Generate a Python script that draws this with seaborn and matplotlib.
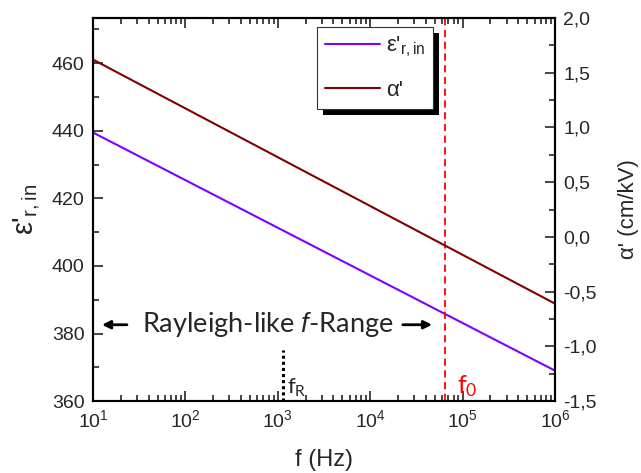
import pandas as pd
import matplotlib
matplotlib.use("Agg")
import matplotlib.pyplot as plt
import matplotlib.ticker as mticker
import matplotlib.transforms as mtransforms
from matplotlib.patches import Rectangle
import seaborn as sns

# values
freq = [1e1, 1e6]
eps_r_in = [439.5, 369.0]
alpha = [1.62, -0.61]
f0 = 6.4e4
f_R = 1.13e3
f_R_top = 375
arrow_y = 382.6

sns.set_style("ticks")
plt.rcParams['font.family'] = ['Liberation Sans', 'DejaVu Sans']
plt.rcParams['mathtext.fontset'] = 'custom'
plt.rcParams['mathtext.rm'] = 'Liberation Sans'
plt.rcParams['mathtext.it'] = 'Liberation Sans:italic'
plt.rcParams['mathtext.default'] = 'regular'

df = pd.DataFrame({'f': freq, 'eps': eps_r_in, 'alpha': alpha})

fig = plt.figure(figsize=(6.41, 4.73), dpi=100)
ax = fig.add_axes([0.145, 0.152, 0.721, 0.810])
ax2 = ax.twinx()

sns.lineplot(data=df, x='f', y='eps', ax=ax, color='#8000ff', lw=1.5,
             label="ε'$_{r,in}$", legend=False)
sns.lineplot(data=df, x='f', y='alpha', ax=ax2, color='#800000', lw=1.5,
             label="α'", legend=False)

ax.set_xscale('log')
ax.set_xlim(1e1, 1e6)
ax.set_ylim(360, 473.4)
ax.yaxis.set_major_locator(mticker.MultipleLocator(20))
ax.yaxis.set_minor_locator(mticker.MultipleLocator(10))
ax.xaxis.set_major_locator(mticker.LogLocator(base=10, numticks=10))
ax.xaxis.set_minor_locator(mticker.LogLocator(base=10, subs=range(2, 10), numticks=20))
ax.xaxis.set_minor_formatter(mticker.NullFormatter())

ax2.set_ylim(-1.5, 2.0)
ax2.yaxis.set_major_locator(mticker.MultipleLocator(0.5))
ax2.yaxis.set_minor_locator(mticker.MultipleLocator(0.25))
ax2.yaxis.set_major_formatter(mticker.FuncFormatter(lambda v, p: f"{v:.1f}".replace('.', ',')))

for a in (ax, ax2):
    for s in a.spines.values():
        s.set_linewidth(1.5)
        s.set_color('black')

ax.tick_params(which='both', direction='in', top=True, right=False, width=1.2, labelsize=14)
ax.tick_params(which='major', length=7)
ax.tick_params(which='minor', length=4)
ax.tick_params(axis='x', pad=6)
ax.tick_params(axis='y', pad=6)
ax2.tick_params(which='both', direction='in', width=1.2, labelsize=14, pad=6)
ax2.tick_params(which='major', length=7)
ax2.tick_params(which='minor', length=4)

ax.set_xlabel('f (Hz)', fontsize=17, labelpad=13)
ax.set_ylabel("ε'$_{r,in}$", fontsize=21, labelpad=6)
ax2.set_ylabel("α' (cm/kV)", fontsize=16, labelpad=15)

# markers for f0 and fR
ax.axvline(f0, color='red', ls=(0, (4, 2.5)), lw=1.3)
ax.plot([f_R, f_R], [360, f_R_top], color='black', ls=(0, (1, 1)), lw=2.2)
ax.text(f_R * 1.12, 360.5, 'f$_R$', fontsize=16, family=['Lato', 'DejaVu Sans'], va='bottom')
ax.text(f0 * 1.36, 360.5, 'f$_0$', fontsize=18, color='red', family=['Lato', 'DejaVu Sans'], va='bottom')

# Rayleigh-like range annotation
ax.text(7.7e2, arrow_y, 'Rayleigh-like $\\mathit{f}$-Range', fontsize=19.5,
        family=['Lato', 'DejaVu Sans'], ha='center', va='center')
ax.annotate('', xy=(1.17e1, arrow_y), xytext=(2.5e1, arrow_y),
            arrowprops=dict(arrowstyle='-|>', color='black', lw=2, mutation_scale=12))
ax.annotate('', xy=(5.0e4, arrow_y), xytext=(2.1e4, arrow_y),
            arrowprops=dict(arrowstyle='-|>', color='black', lw=2, mutation_scale=12))

h1, l1 = ax.get_legend_handles_labels()
h2, l2 = ax2.get_legend_handles_labels()
leg = ax2.legend(h1 + h2, l1 + l2, loc='upper left', bbox_to_anchor=(0.485, 0.977),
                 borderaxespad=0, fontsize=16, frameon=True, fancybox=False,
                 handlelength=2.5, borderpad=0.35, labelspacing=0.95, handletextpad=0.25)
leg.get_frame().set_edgecolor('#333333')
leg.get_frame().set_linewidth(0.8)
leg.get_frame().set_alpha(1)
leg.set_zorder(10)

# hard black drop shadow offset down-right, as in the original
fig.canvas.draw()
bb = leg.get_window_extent()
shadow = Rectangle((bb.x0 + 6, bb.y0 - 6), bb.width, bb.height, facecolor='black',
                   edgecolor='none', transform=mtransforms.IdentityTransform(), zorder=9)
ax2.add_artist(shadow)

fig.savefig('out.png', dpi=100)
